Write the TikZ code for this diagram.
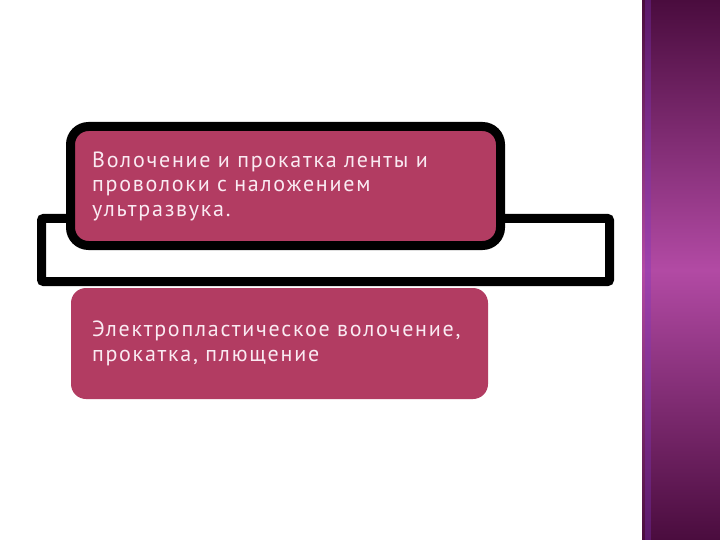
\documentclass[tikz,border=0pt]{standalone}
\usepackage{fontspec}
\setmainfont[LetterSpace=8]{PT Sans}
\usepackage{tikz}
\definecolor{boxred}{RGB}{178,60,98}
\definecolor{boxtext}{RGB}{250,234,242}
\definecolor{stripdark}{RGB}{74,12,62}
\definecolor{striplight}{RGB}{178,74,164}
\tikzset{
  box/.style={draw=none,fill=boxred,rounded corners=15pt,inner sep=0pt},
  boxlabel/.style={text=boxtext,anchor=west,align=left,inner sep=0pt,text width=420pt,
    font=\fontsize{22}{24.5}\selectfont}
}

\begin{document}
\begin{tikzpicture}[x=1pt,y=-1pt]
            \useasboundingbox[fill=white] (0,0) rectangle (720,540);
            \begin{scope}[shift={(642,0)}]
                \shade[top color=stripdark,bottom color=stripdark,middle color=striplight] (0,0) rectangle (78,540);
                \fill[color=striplight!70!blue,opacity=0.35] (3,0) rectangle (9,540);
            \end{scope}
            \draw[line width=9pt,rounded corners=2pt,fill=white] (41.5,218.5) rectangle (609.5,281.5);
            \node[box,draw=black,line width=9pt,rounded corners=18pt,minimum width=430pt,minimum height=119pt] (drawing) at (285.5,186) {};
            \node[boxlabel] (drawingtext) at ([xshift=26pt]drawing.west) {Волочение и прокатка ленты и\\проволоки с наложением\\ультразвука.};
            \node[box,minimum width=417pt,minimum height=111pt] (electro) at (279.5,343.5) {};
            \node[boxlabel] (electrotext) at ([xshift=21pt]electro.west) {Электропластическое волочение,\\прокатка, плющение};
        \end{tikzpicture}
\end{document}
